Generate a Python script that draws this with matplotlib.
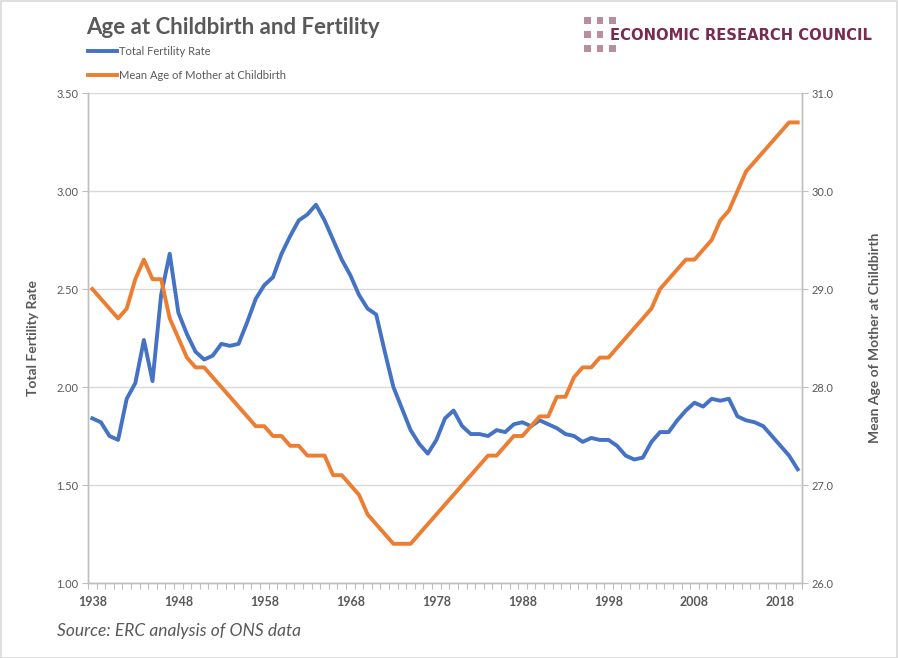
import matplotlib
matplotlib.use('Agg')
import matplotlib.pyplot as plt
from matplotlib.patches import Rectangle
from matplotlib.ticker import FixedLocator, FormatStrFormatter

years = list(range(1938, 2021))

# Total fertility rate (left axis)
tfr = [1.84, 1.82, 1.75, 1.73, 1.94, 2.02, 2.24, 2.03, 2.47, 2.68,
       2.38, 2.27, 2.18, 2.14, 2.16, 2.22, 2.21, 2.22, 2.33, 2.45,
       2.52, 2.56, 2.68, 2.77, 2.85, 2.88, 2.93, 2.85, 2.75, 2.65,
       2.57, 2.47, 2.40, 2.37, 2.18, 2.00, 1.89, 1.78, 1.71, 1.66,
       1.73, 1.84, 1.88, 1.80, 1.76, 1.76, 1.75, 1.78, 1.77, 1.81,
       1.82, 1.80, 1.83, 1.81, 1.79, 1.76, 1.75, 1.72, 1.74, 1.73,
       1.73, 1.70, 1.65, 1.63, 1.64, 1.72, 1.77, 1.77, 1.83, 1.88,
       1.92, 1.90, 1.94, 1.93, 1.94, 1.85, 1.83, 1.82, 1.80, 1.75,
       1.70, 1.65, 1.58]

# Mean age of mother at childbirth (right axis)
mean_age = [29.0, 28.9, 28.8, 28.7, 28.8, 29.1, 29.3, 29.1, 29.1, 28.7,
            28.5, 28.3, 28.2, 28.2, 28.1, 28.0, 27.9, 27.8, 27.7, 27.6,
            27.6, 27.5, 27.5, 27.4, 27.4, 27.3, 27.3, 27.3, 27.1, 27.1,
            27.0, 26.9, 26.7, 26.6, 26.5, 26.4, 26.4, 26.4, 26.5, 26.6,
            26.7, 26.8, 26.9, 27.0, 27.1, 27.2, 27.3, 27.3, 27.4, 27.5,
            27.5, 27.6, 27.7, 27.7, 27.9, 27.9, 28.1, 28.2, 28.2, 28.3,
            28.3, 28.4, 28.5, 28.6, 28.7, 28.8, 29.0, 29.1, 29.2, 29.3,
            29.3, 29.4, 29.5, 29.7, 29.8, 30.0, 30.2, 30.3, 30.4, 30.5,
            30.6, 30.7, 30.7]

year_labels = list(range(1938, 2019, 10))
left_ticks = [1.0, 1.5, 2.0, 2.5, 3.0, 3.5]
right_ticks = [26.0, 27.0, 28.0, 29.0, 30.0, 31.0]

BLUE = '#4472C4'
ORANGE = '#ED7D31'
GREY = '#595959'
AXIS = '#bfbfbf'
GRID = '#d9d9d9'

plt.rcParams['font.family'] = ['Lato', 'DejaVu Sans']

W, H = 898, 658
fig = plt.figure(figsize=(W / 100, H / 100), dpi=100)


def fx(px):
    return px / W


def fy(py):
    return 1 - py / H


ax = fig.add_axes([fx(88), fy(583), fx(802) - fx(88), fy(93) - fy(583)])
ax2 = ax.twinx()

l1, = ax.plot(years, tfr, color=BLUE, lw=2.8, solid_joinstyle='round', label='Total Fertility Rate')
l2, = ax2.plot(years, mean_age, color=ORANGE, lw=2.8, solid_joinstyle='round',
               label='Mean Age of Mother at Childbirth')

ax.set_xlim(1937.5, 2020.5)
ax.set_ylim(1.0, 3.5)
ax2.set_ylim(26.0, 31.0)

ax.yaxis.set_major_locator(FixedLocator(left_ticks))
ax.yaxis.set_major_formatter(FormatStrFormatter('%.2f'))
ax2.yaxis.set_major_locator(FixedLocator(right_ticks))
ax2.yaxis.set_major_formatter(FormatStrFormatter('%.1f'))

ax.xaxis.set_major_locator(FixedLocator(year_labels))
ax.xaxis.set_minor_locator(FixedLocator([y - 0.5 for y in years] + [years[-1] + 0.5]))
ax.tick_params(axis='x', which='major', length=0, pad=9, labelsize=9, labelcolor=GREY)
ax.tick_params(axis='x', which='minor', length=4, width=0.8, color=AXIS, direction='out')
for lbl in ax.get_xticklabels():
    lbl.set_fontweight('bold')

ax.tick_params(axis='y', length=4, width=0.8, color=AXIS, labelsize=8, labelcolor=GREY, pad=3)
ax2.tick_params(axis='y', length=4, width=0.8, color=AXIS, labelsize=8, labelcolor=GREY, pad=3)

ax.grid(axis='y', color=GRID, lw=1)
ax.set_axisbelow(True)

for a in (ax, ax2):
    a.spines['top'].set_visible(False)
    for s in ('left', 'right', 'bottom'):
        a.spines[s].set_color(AXIS)
        a.spines[s].set_linewidth(1)

ax.set_ylabel('Total Fertility Rate', fontsize=10, fontweight='bold', color=GREY, labelpad=12)
ax2.set_ylabel('Mean Age of Mother at Childbirth', fontsize=10, fontweight='bold', color=GREY,
               labelpad=25, rotation=90)

# title and legend
fig.text(fx(86), fy(28), 'Age at Childbirth and Fertility', fontsize=16, fontweight='bold',
         color=GREY, va='center', ha='left')
fig.legend(handles=[l1, l2], loc='upper left', bbox_to_anchor=(fx(88), fy(46)), frameon=False,
           fontsize=8, labelcolor=GREY, handlelength=2.6, handletextpad=0.15,
           labelspacing=1.2, borderpad=0, borderaxespad=0)

# source note
fig.text(fx(57), fy(631), 'Source: ERC analysis of ONS data', fontsize=12.5, style='italic',
         color=GREY, va='center', ha='left')

# logo
LOGO_SQ = '#b88da0'
for r, cols in enumerate([3, 2, 3]):
    for c in range(cols):
        fig.patches.append(Rectangle((fx(584 + c * 12.7), fy(17 + r * 14 + 6.5)), fx(6.5), 6.5 / H,
                                     transform=fig.transFigure, color=LOGO_SQ, lw=0))
fig.text(fx(610), fy(35), 'ECONOMIC RESEARCH COUNCIL', fontsize=10.6, color='#7b2a52',
         fontfamily=['DejaVu Sans'], fontweight='bold', va='center', ha='left')

# chart border
fig.patches.append(Rectangle((0.5 / W, 0.5 / H), 1 - 1.5 / W, 1 - 1.5 / H, transform=fig.transFigure,
                             fill=False, edgecolor=GRID, lw=1.2))

fig.savefig('out.png', dpi=100)
